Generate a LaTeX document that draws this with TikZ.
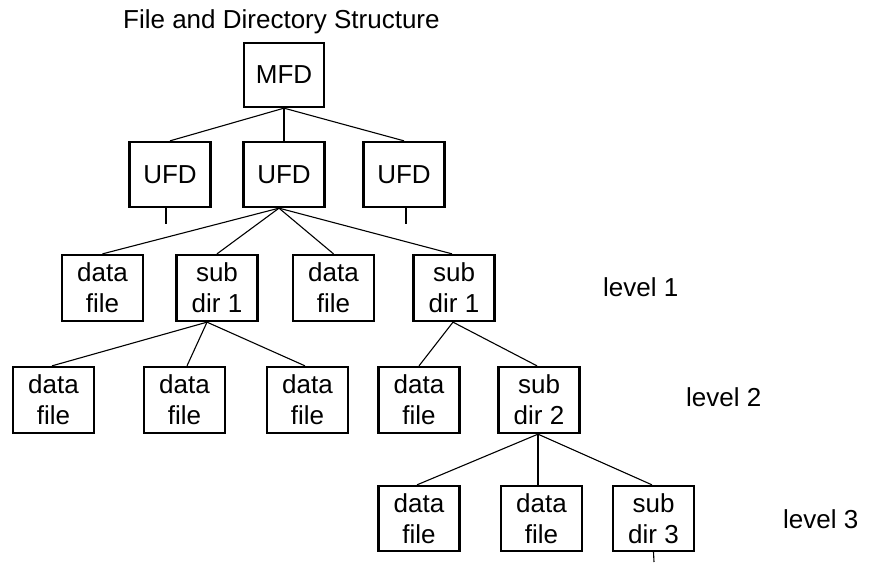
\documentclass[tikz,border=0pt]{standalone}
\usepackage{fontspec}
\setmainfont{Liberation Sans}
\begin{document}
\begin{tikzpicture}[x=1pt,y=-1pt,
  box/.style={draw=black,line width=2.3pt,minimum width=81pt,minimum height=65pt,inner sep=0pt,align=center,font=\fontsize{26}{31}\selectfont},
  conn/.style={line width=1.1pt},
  lbl/.style={anchor=base west,inner sep=0pt,font=\fontsize{26}{31}\selectfont}]
\useasboundingbox (0,0) rectangle (875,563);
\node[lbl] (title) at (123,28) {File and Directory Structure};
\node[box,minimum width=80pt,minimum height=64pt] (mfd) at (284,75) {MFD};
\node[box] (ufdl) at (170,174.5) {UFD};
\node[box] (ufdc) at (284,174.5) {UFD};
\node[box] (ufdr) at (404,174.5) {UFD};
% level 1
\node[box,minimum height=66pt] (df1) at (102.5,288) {data\\file};
\node[box,minimum height=66pt] (sd1) at (217,288) {sub\\dir 1};
\node[box,minimum height=66pt] (df2) at (333.5,288) {data\\file};
\node[box,minimum height=66pt] (sd1r) at (454,288) {sub\\dir 1};
% level 2
\node[box,minimum height=66pt] (dfa) at (53.5,400) {data\\file};
\node[box,minimum height=66pt] (dfb) at (184.5,400) {data\\file};
\node[box,minimum height=66pt] (dfc) at (307.5,400) {data\\file};
\node[box,minimum height=66pt] (dfd) at (419,400) {data\\file};
\node[box,minimum height=66pt] (sd2) at (539,400) {sub\\dir 2};
% level 3
\node[box] (dfe) at (419,518.5) {data\\file};
\node[box] (dff) at (541.5,518.5) {data\\file};
\node[box] (sd3) at (653.5,518.5) {sub\\dir 3};
% labels
\node[lbl] (l1) at (603,296) {level 1};
\node[lbl] (l2) at (686,406) {level 2};
\node[lbl] (l3) at (783,528) {level 3};
% stubs
\coordinate (sl) at (166,224);
\coordinate (sr) at (406,224);
\coordinate (s3) at (654,562);
% connectors
\draw[conn] (mfd.south) -- (ufdl.north);
\draw[conn] (mfd.south) -- (ufdc.north);
\draw[conn] (mfd.south) -- (ufdr.north);
\draw[conn] ([xshift=-4pt]ufdl.south) -- (sl);
\draw[conn] ([xshift=2pt]ufdr.south) -- (sr);
\draw[conn] ([xshift=-5pt]ufdc.south) -- (df1.north);
\draw[conn] ([xshift=-5pt]ufdc.south) -- (sd1.north);
\draw[conn] ([xshift=-5pt]ufdc.south) -- (df2.north);
\draw[conn] ([xshift=-5pt]ufdc.south) -- ([xshift=-2pt]sd1r.north);
\draw[conn] ([xshift=-10pt]sd1.south) -- ([xshift=-1.5pt]dfa.north);
\draw[conn] ([xshift=-10pt]sd1.south) -- ([xshift=2.5pt]dfb.north);
\draw[conn] ([xshift=-10pt]sd1.south) -- ([xshift=-2.5pt]dfc.north);
\draw[conn] ([xshift=-1pt]sd1r.south) -- (dfd.north);
\draw[conn] ([xshift=-1pt]sd1r.south) -- ([xshift=-2pt]sd2.north);
\draw[conn] ([xshift=-1pt]sd2.south) -- ([xshift=-2pt]dfe.north);
\draw[conn] ([xshift=-1pt]sd2.south) -- ([xshift=-3.5pt]dff.north);
\draw[conn] ([xshift=-1pt]sd2.south) -- ([xshift=-1.5pt]sd3.north);
\draw[conn] (sd3.south) -- (s3);
\end{tikzpicture}
\end{document}
